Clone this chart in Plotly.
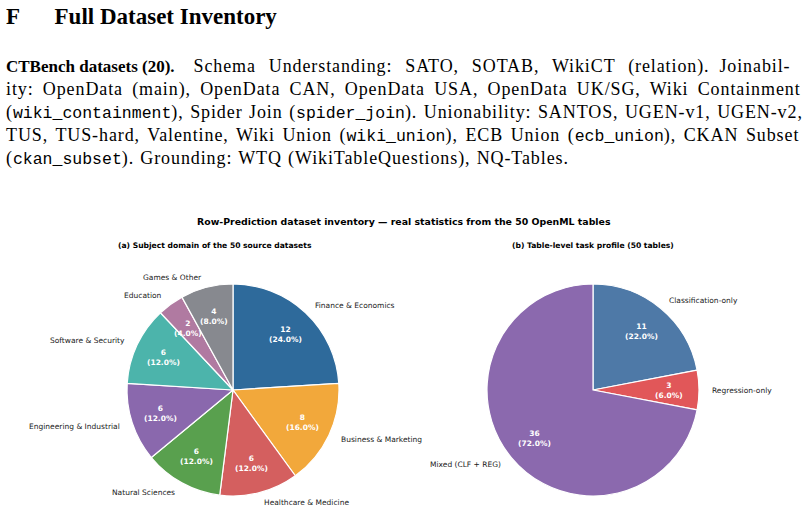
import numpy as np
import plotly.graph_objects as go

W, H = 808, 512

# ---------------- data ----------------
domain_labels = ["Finance & Economics", "Business & Marketing", "Healthcare & Medicine",
                 "Natural Sciences", "Engineering & Industrial", "Software & Security",
                 "Education", "Games & Other"]
domain_counts = [12, 8, 6, 6, 6, 6, 2, 4]
domain_colors = ["#2e6a9b", "#f2a83b", "#d45f5f", "#59a04e", "#8a68ad", "#4cb4ab", "#b07aa1", "#87898f"]

task_labels = ["Classification-only", "Regression-only", "Mixed (CLF + REG)"]
task_counts = [11, 3, 36]
task_colors = ["#4e79a7", "#e15759", "#8b69ae"]

header_title = "F\u2003\u2002Full Dataset Inventory"
# paragraph lines as (kind, text) segments: b = bold serif, r = regular serif, m = monospace
para_lines = [
    [("b", "CTBench datasets (20)."),
     ("r", "\u2003Schema Understanding: SATO, SOTAB, WikiCT (relation).\u2002Joinabil-")],
    [("r", "ity: OpenData (main), OpenData CAN, OpenData USA, OpenData UK/SG, Wiki Containment")],
    [("r", "("), ("m", "wiki_containment"), ("r", "), Spider Join ("), ("m", "spider_join"),
     ("r", "). Unionability: SANTOS, UGEN-v1, UGEN-v2,")],
    [("r", "TUS, TUS-hard, Valentine, Wiki Union ("), ("m", "wiki_union"), ("r", "), ECB Union ("),
     ("m", "ecb_union"), ("r", "), CKAN Subset")],
    [("r", "("), ("m", "ckan_subset"), ("r", "). Grounding: WTQ (WikiTableQuestions), NQ-Tables.")],
]
suptitle = "Row-Prediction dataset inventory \u2014 real statistics from the 50 OpenML tables"
title_a = "(a) Subject domain of the 50 source datasets"
title_b = "(b) Table-level task profile (50 tables)"

# ---------------- layout constants (px) ----------------
R = 106
CA = (233, 390)
CB = (593, 390)
LABEL_DIST = 1.1
PCT_DIST = 0.72
FONT = "DejaVu Sans"
SERIF = "Liberation Serif"
MONO = "Liberation Mono"
LINE_Y = [66, 89, 112, 135, 158]
WORD_SP = [7.5, 3.8, 1.1, 2.2, 0.8]


def px(x):
    return x / W


def py(y):
    return 1 - y / H


def dom(c):
    return dict(x=[px(c[0] - R), px(c[0] + R)], y=[py(c[1] + R), py(c[1] - R)])


fig = go.Figure()
annotations = []


def add_pie(labels, counts, colors, center):
    fig.add_trace(go.Pie(
        labels=labels, values=counts, sort=False, direction="clockwise", rotation=0,
        marker=dict(colors=colors, line=dict(color="white", width=1.2)),
        textinfo="none", hoverinfo="label+value+percent", showlegend=False,
        domain=dom(center),
    ))
    total = float(sum(counts))
    cum = np.cumsum([0] + list(counts))
    for i, (lab, v) in enumerate(zip(labels, counts)):
        mid = (cum[i] + v / 2.0) / total * 2 * np.pi
        sx, sy = np.sin(mid), np.cos(mid)
        lx = center[0] + sx * R * LABEL_DIST
        ly = center[1] - sy * R * LABEL_DIST
        annotations.append(dict(
            x=px(lx), y=py(ly), xref="paper", yref="paper", showarrow=False,
            text=lab, xanchor="left" if sx > 0 else "right", yanchor="middle",
            font=dict(family=FONT, size=7.5, color="#1a1a1a")))
        tx = center[0] + sx * R * PCT_DIST
        ty = center[1] - sy * R * PCT_DIST
        annotations.append(dict(
            x=px(tx), y=py(ty), xref="paper", yref="paper", showarrow=False,
            text="<b>%d<br>(%.1f%%)</b>" % (v, v / total * 100),
            xanchor="center", yanchor="middle",
            font=dict(family=FONT, size=7.5, color="white")))


add_pie(domain_labels, domain_counts, domain_colors, CA)
add_pie(task_labels, task_counts, task_colors, CB)


def seg_html(kind, text, ws):
    if kind == "b":
        return "<b>" + text + "</b>"
    if kind == "m":
        return ("<span style='font-family:%s;font-size:16.5px;word-spacing:%.2fpx'>%s</span>"
                % (MONO, ws, text))
    return ("<span style='font-size:18px;letter-spacing:0.9px;word-spacing:%.2fpx'>%s</span>"
            % (ws, text))


# header text
annotations.append(dict(x=px(4), y=py(16), xref="paper", yref="paper", showarrow=False,
                        text="<b>" + header_title + "</b>", xanchor="left", yanchor="middle",
                        font=dict(family=SERIF, size=23, color="black")))
for segs, yy, ws in zip(para_lines, LINE_Y, WORD_SP):
    html = "".join(seg_html(k, t, ws) for k, t in segs)
    annotations.append(dict(x=px(4), y=py(yy), xref="paper", yref="paper", showarrow=False,
                            text=html, xanchor="left", yanchor="middle",
                            font=dict(family=SERIF, size=17, color="black")))

annotations.append(dict(x=px(404), y=py(221), xref="paper", yref="paper", showarrow=False,
                        text="<b>" + suptitle + "</b>", xanchor="center", yanchor="middle",
                        font=dict(family=FONT, size=9.4, color="black")))
annotations.append(dict(x=px(215), y=py(245), xref="paper", yref="paper", showarrow=False,
                        text="<b>" + title_a + "</b>", xanchor="center", yanchor="middle",
                        font=dict(family=FONT, size=7.6, color="black")))
annotations.append(dict(x=px(593), y=py(245), xref="paper", yref="paper", showarrow=False,
                        text="<b>" + title_b + "</b>", xanchor="center", yanchor="middle",
                        font=dict(family=FONT, size=7.6, color="black")))

fig.update_layout(width=W, height=H, margin=dict(l=0, r=0, t=0, b=0),
                  paper_bgcolor="white", plot_bgcolor="white",
                  annotations=annotations)
fig.write_html("out.html")
